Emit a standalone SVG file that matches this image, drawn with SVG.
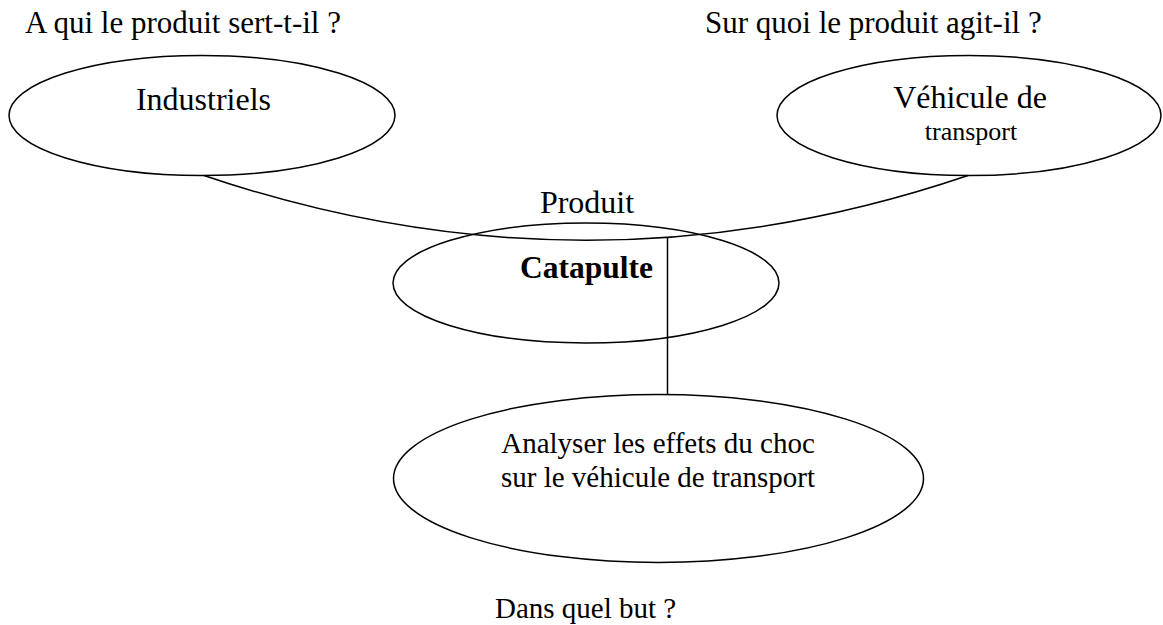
<svg xmlns="http://www.w3.org/2000/svg" width="1163" height="625" viewBox="0 0 1163 625">
<style>
.n{fill:#fff;stroke:#000;stroke-width:1.5}
.t{font-family:"Liberation Serif","Times New Roman",serif;font-size:31px;fill:#000}
.c{stroke:#000;stroke-width:1.5;fill:none}
</style>
<rect width="1163" height="625" fill="#fff"/>
<text class="t" x="25" y="33">A qui le produit sert-t-il ?</text>
<text class="t" x="705" y="33">Sur quoi le produit agit-il ?</text>
<g id="industriels">
<ellipse class="n" cx="202" cy="115.5" rx="193" ry="60"/>
<text class="t" x="203.5" y="110" text-anchor="middle" style="font-size:32px">Industriels</text>
</g>
<g id="vehicule">
<ellipse class="n" cx="969" cy="115.5" rx="192" ry="60"/>
<text class="t" x="970" y="108" text-anchor="middle" style="font-size:32px">Véhicule de</text>
<text class="t" x="971" y="140" text-anchor="middle" style="font-size:26px">transport</text>
</g>
<g id="catapulte">
<ellipse class="n" cx="586" cy="283" rx="193" ry="60"/>
<text class="t" x="587" y="213" text-anchor="middle" style="font-size:32px">Produit</text>
<text class="t" x="586.5" y="278" text-anchor="middle" font-weight="bold" style="font-size:31.5px">Catapulte</text>
</g>
<g id="but">
<ellipse class="n" cx="658.5" cy="478.5" rx="265" ry="84"/>
<text class="t" x="658" y="453" text-anchor="middle" style="font-size:29px">Analyser les effets du choc</text>
<text class="t" x="658" y="487" text-anchor="middle" style="font-size:29px">sur le véhicule de transport</text>
</g>
<text class="t" x="495" y="618" style="font-size:29px">Dans quel but ?</text>
<g id="connectors">
<path class="c" d="M204 175.5 Q586 305 968 175.5"/>
<line class="c" x1="667.5" y1="238" x2="667.5" y2="394.5"/>
</g>
</svg>
